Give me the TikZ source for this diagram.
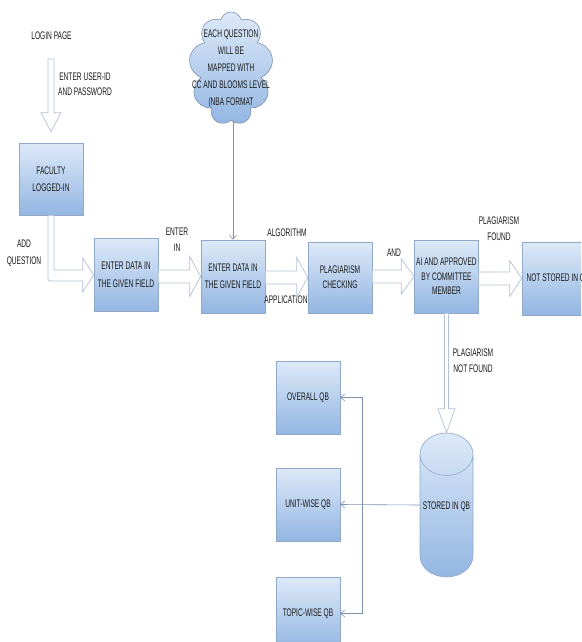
\documentclass[tikz,border=0pt]{standalone}
\usepackage{fontspec}
\setmainfont{Liberation Sans}[FakeStretch=0.6]
\usetikzlibrary{arrows.meta,calc,shapes.geometric,shapes.symbols}
\definecolor{qlight}{HTML}{DDE9F8}
\definecolor{qdark}{HTML}{93B6E2}
\definecolor{qedge}{HTML}{90A9CB}
\definecolor{qline}{HTML}{7D91B0}
\definecolor{qhollow}{HTML}{B3C1D3}
\definecolor{qtext}{HTML}{1A1A1A}
\tikzset{
  qbox/.style={draw=qedge,top color=qlight,bottom color=qdark,line width=0.6pt,align=center,minimum width=64pt,minimum height=73pt,inner sep=1pt,text=qtext},
  qdb/.style={cylinder,shape border rotate=90,aspect=0.9,draw=qedge,top color=qlight,bottom color=qdark,line width=0.6pt,minimum width=53pt,minimum height=144pt,inner sep=0pt,text=qtext},
  qcloud/.style={cloud,cloud puffs=9,cloud ignores aspect,draw=qline,top color=qlight,bottom color=qdark,line width=0.6pt,align=center,minimum width=84pt,minimum height=113pt,inner xsep=-14pt,inner ysep=-16pt,text=qtext},
  lbl/.style={align=center,text=qtext,inner sep=0pt},
  hollow/.style={draw=qhollow,fill=white,line width=0.7pt,line join=miter},
  tarr/.style={-{Straight Barb[length=4pt,width=7pt]},line width=0.6pt,draw=qline},
}
% horizontal block arrow: tail, tip, half shaft, half head, head length
\newcommand\hollowh[5]{%
  \draw[hollow] let \p1=(#1), \p2=(#2) in
    (\x1,\y2+#3) -- (\x2-#5,\y2+#3) -- (\x2-#5,\y2+#4) -- (\x2,\y2)
    -- (\x2-#5,\y2-#4) -- (\x2-#5,\y2-#3) -- (\x1,\y2-#3) -- cycle;}
% vertical block arrow (downwards)
\newcommand\hollowv[5]{%
  \draw[hollow] let \p1=(#1), \p2=(#2) in
    (\x2+#3,\y1) -- (\x2+#3,\y2+#5) -- (\x2+#4,\y2+#5) -- (\x2,\y2)
    -- (\x2-#4,\y2+#5) -- (\x2-#3,\y2+#5) -- (\x2-#3,\y1) -- cycle;}
\begin{document}
\begin{tikzpicture}[x=1pt,y=-1pt,font=\fontsize{11}{16}\selectfont]
  \useasboundingbox (0,0) rectangle (581,642);
  \clip (0,0) rectangle (581,642);
  % login side
  \node[lbl] (lgn) at (51.5,36) {LOGIN PAGE};
  \node[lbl,font=\fontsize{11}{15}\selectfont] (uid) at (85,84.5) {ENTER USER-ID\\AND PASSWORD};
  \node[qbox,minimum height=72pt,font=\fontsize{11}{17}\selectfont] (fac) at (51,179) {FACULTY\\LOGGED-IN};
  \node[qcloud,font=\fontsize{11}{17}\selectfont] (cld) at (231,68.5) {EACH QUESTION\\WILL BE\\MAPPED WITH\\CC AND BLOOMS LEVEL\\(NBA FORMAT};
  % main row
  \node[qbox,font=\fontsize{11}{17.5}\selectfont] (ed1) at (126,275) {ENTER DATA IN\\THE GIVEN FIELD};
  \node[qbox,font=\fontsize{11}{17.5}\selectfont] (ed2) at (233,276.5) {ENTER DATA IN\\THE GIVEN FIELD};
  \node[qbox,minimum height=71pt,font=\fontsize{11}{15}\selectfont] (plg) at (340,277.5) {PLAGIARISM\\CHECKING};
  \node[qbox,font=\fontsize{11}{14.5}\selectfont] (aib) at (446.5,276.5) {AI AND APPROVED\\BY COMMITTEE\\MEMBER};
  \node[qbox,minimum width=72pt] (nst) at (558,278.5) {NOT STORED IN QB};
  % storage
  \node[qdb,anchor=shape center] (sqb) at (446.5,505) {\raisebox{9pt}[\height][\depth]{STORED IN QB}};
  \node[qbox] (ovq) at (308,397.5) {OVERALL QB};
  \node[qbox] (unq) at (308,504.5) {UNIT-WISE QB};
  \node[qbox] (tpq) at (308,613.5) {TOPIC-WISE QB};
  % labels
  \node[lbl,font=\fontsize{11}{17}\selectfont] (adq) at (24,253.5) {ADD\\QUESTION};
  \node[lbl] (ein) at (177,240) {ENTER\\IN};
  \node[lbl] (alg) at (287,233) {ALGORITHM};
  \node[lbl] (app) at (286,300) {APPLICATION};
  \node[lbl] (and) at (394,253) {AND};
  \node[lbl] (pfd) at (499,229) {PLAGIARISM\\FOUND};
  \node[lbl] (pnf) at (473,361) {PLAGIARISM\\NOT FOUND};
  % block arrows
  \coordinate (lgtail) at (51,59);
  \coordinate (lgtip) at ([yshift=11pt]fac.north);
  \hollowv{lgtail}{lgtip}{3pt}{10pt}{19pt}
  \draw[hollow] let \p1=(fac.south), \p2=(ed1.west) in
    (\x1+3pt,\y1) -- (\x1+3pt,\y2+5pt) -- (\x2-11pt,\y2+5pt) -- (\x2-11pt,\y2+17pt) -- (\x2,\y2)
    -- (\x2-11pt,\y2-17pt) -- (\x2-11pt,\y2-6pt) -- (\x1+2pt,\y2-6pt)
    .. controls (\x1-3pt,\y2-6pt) .. (\x1-3pt,\y2-1pt) -- (\x1-3pt,\y1) -- cycle;
  \hollowh{ed1.east}{ed2.west}{6.5pt}{20pt}{11pt}
  \hollowh{ed2.east}{plg.west}{6.5pt}{20pt}{11pt}
  \hollowh{plg.east}{aib.west}{6.5pt}{17.5pt}{13pt}
  \hollowh{aib.east}{nst.west}{6.5pt}{18pt}{12pt}
  \hollowv{aib.south}{sqb.north}{2pt}{8.5pt}{24pt}
  % thin connectors
  \draw[tarr] (ed2.north |- cld.south) -- (ed2.north);
  \coordinate (jn) at (362,505);
  \draw[tarr] (sqb.west |- sqb.shape center) -- (unq.east);
  \draw[tarr] (jn) |- (ovq.east);
  \draw[tarr] (jn) |- (tpq.east);
\end{tikzpicture}
\end{document}
